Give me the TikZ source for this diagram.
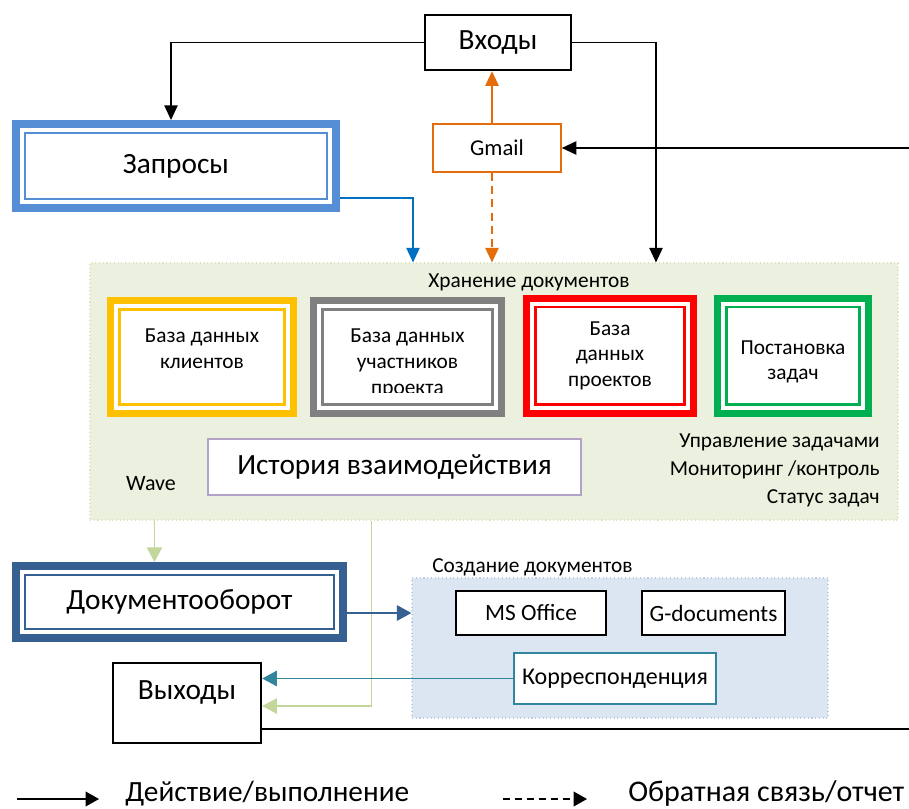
\documentclass[tikz,border=0pt]{standalone}
\usepackage{fontspec}
\setmainfont{Carlito}
\usetikzlibrary{arrows.meta,calc}

\definecolor{reqblue}{HTML}{558ED5}
\definecolor{flowblue}{HTML}{0070C0}
\definecolor{docblue}{HTML}{376092}
\definecolor{mailorange}{HTML}{E46C0A}
\definecolor{dbyellow}{HTML}{FFC000}
\definecolor{dbgray}{HTML}{808080}
\definecolor{dbred}{HTML}{FF0000}
\definecolor{dbgreen}{HTML}{00B050}
\definecolor{histlav}{HTML}{B3A2C7}
\definecolor{storefill}{HTML}{EBF1DE}
\definecolor{storeedge}{HTML}{D7E4BD}
\definecolor{createfill}{HTML}{DCE6F2}
\definecolor{createedge}{HTML}{B9CDE5}
\definecolor{waveline}{HTML}{C3D69B}
\definecolor{corrteal}{HTML}{31859C}

\tikzset{
  place/.style n args={4}{
    minimum width={(#3-#1)*0.75pt}, minimum height={(#4-#2)*0.75pt},
    at={({(#1+#3)/2},{(#2+#4)/2})}},
  base/.style={inner sep=0pt, align=center, text=black},
  plain/.style={base, draw=#1, fill=white, line width=1.6pt},
  dbl/.style 2 args={base, draw=#1, fill=white, line width=#2,
    path picture={\draw[#1, line width=1.6pt]
      ([shift={(9,9)}]path picture bounding box.north west) rectangle
      ([shift={(-9,-9)}]path picture bounding box.south east);}},
  region/.style={base, draw=#1, dotted, line width=0.8pt},
  act/.style={line width=1.1pt, -{Triangle[length=11pt,width=10pt]}},
  fb/.style={act, dash pattern=on 6pt off 4pt},
  wide/.style={-{Triangle[length=11pt,width=11.5pt]}},
  dbtext/.style={font=\fontsize{16}{19.5}\selectfont},
  big/.style={font=\fontsize{22}{26}\selectfont},
}

\begin{document}
\begin{tikzpicture}[x=0.75pt, y=-0.75pt]
\useasboundingbox (0,0) rectangle (909,809);

% top: inputs, requests, mail
\node[plain=black, line width=1.8pt, place={425}{15}{571}{70}, big] (in) {Входы};
\node[dbl={reqblue}{6pt}, place={16}{124}{336}{208}, big] (req) {Запросы};
\node[plain=mailorange, line width=1.2pt, place={433}{124}{561}{172}, font=\fontsize{17}{20}\selectfont] (gmail) {Gmail};

% document storage area
\node[region=storeedge, fill=storefill, place={90}{263}{898}{520}] (store) {};
\node[base, anchor=base, font=\fontsize{16}{19}\selectfont] (storelbl) at (529,287) {Хранение документов};

\node[dbl={dbyellow}{5.25pt}, place={110.5}{300.5}{293.5}{413.5}, dbtext] (dbclients) {База данных\\клиентов\rule[-12pt]{0pt}{0pt}};
\node[dbl={dbgray}{5.25pt}, place={313.5}{300.5}{501.5}{413.5}, dbtext] (dbteam) {\rule{0pt}{20pt}База данных\\участников\\проекта};
% the last line is cut off at the lower edge of the text area
\fill[white] (325,393) rectangle (490,402);
\node[dbl={dbred}{5.25pt}, place={526.5}{298}{693.5}{413.5}, font=\fontsize{16}{19}\selectfont] (dbproj) {База\\данных\\проектов};
\node[dbl={dbgreen}{5.25pt}, place={717.5}{298}{868.5}{413.5}, font=\fontsize{16}{19}\selectfont] (tasks) {\rule{0pt}{19pt}Постановка\\задач};

\node[plain=histlav, line width=1.5pt, place={208}{439}{581}{495}, big] (hist) {История взаимодействия};
\node[base, anchor=base, font=\fontsize{16.5}{20}\selectfont] (wave) at (151,490) {Wave};
\node[base, anchor=base east, font=\fontsize{16}{19}\selectfont] (taska) at (880,447) {Управление задачами};
\node[base, anchor=base east, font=\fontsize{16}{19}\selectfont] (taskb) at (880,475) {Мониторинг /контроль};
\node[base, anchor=base east, font=\fontsize{16}{19}\selectfont] (taskc) at (880,503) {Статус задач};

% document flow and creation
\node[dbl={docblue}{6pt}, place={16}{566}{343}{638}, big] (flow) {Документооборот};
\node[region=createedge, fill=createfill, place={412}{578}{828}{718}] (create) {};
\node[base, anchor=base west, font=\fontsize{16}{19}\selectfont] (createlbl) at (432,572) {Создание документов};
\node[plain=black, place={456}{591}{606}{635}, font=\fontsize{17.5}{20}\selectfont] (msoffice) {MS Office};
\node[plain=black, place={642}{591}{785}{635}, font=\fontsize{17.5}{20}\selectfont] (gdocs) {G-documents};
\node[plain=corrteal, line width=1.4pt, place={514}{653}{716}{704}, font=\fontsize{18}{21}\selectfont] (corr) {Корреспонденция};
\node[plain=black, line width=1.8pt, place={113}{663}{261}{743},
  label={[base, big, yshift=8pt]center:Выходы}] (out) {};

% free ends at the right margin
\coordinate (mailsrc) at (909,148);
\coordinate (outdst) at (909,729);

% connectors
\draw[act] (in.west) -| ($(req.north)+(-5,0)$);
\draw[act] (in.east) -| ($(store.north)+(162,0)$);
\draw[act, mailorange] ($(gmail.north)+(-5,0)$) coordinate (gu) -- (gu |- in.south);
\draw[fb, mailorange] ($(gmail.south)+(-5,0)$) coordinate (gd) -- (gd |- store.north);
\draw[act, line width=1.4pt] (mailsrc) -- (gmail.east);
\draw[act, flowblue] ($(req.east)+(0,32)$) -| ($(store.north)+(-81,0)$);
\draw[line width=1.2pt, waveline, wide]
  ($(store.south west)+(65,0)$) coordinate (wa) -- (wa |- flow.north);
\draw[line width=1.2pt, waveline, wide]
  ($(store.south west)+(282,0)$) |- ($(out.east)+(0,3)$);
\draw[line width=1.8pt, docblue, wide]
  ($(flow.east)+(0,11)$) coordinate (fe) -- (fe -| create.west);
\draw[line width=1.4pt, corrteal, wide]
  (corr.west) -- (corr.west -| out.east);
\draw[line width=1.1pt] ($(out.east)+(0,26)$) -- (outdst);

% legend
\coordinate (la1) at (17,799);
\coordinate (la2) at (99,799);
\coordinate (lb1) at (503,799);
\coordinate (lb2) at (587,799);
\draw[line width=1.1pt, -{Triangle[length=10pt,width=11pt]}] (la1) -- (la2);
\draw[line width=1.1pt, dash pattern=on 5pt off 4pt, -{Triangle[length=10pt,width=11pt]}] (lb1) -- (lb2);
\node[base, anchor=base west, font=\fontsize{22}{26}\selectfont] (lega) at (125,801) {Действие/выполнение};
\node[base, anchor=base west, font=\fontsize{22.5}{26}\selectfont] (legb) at (628,801) {Обратная связь/отчет};
\end{tikzpicture}
\end{document}
